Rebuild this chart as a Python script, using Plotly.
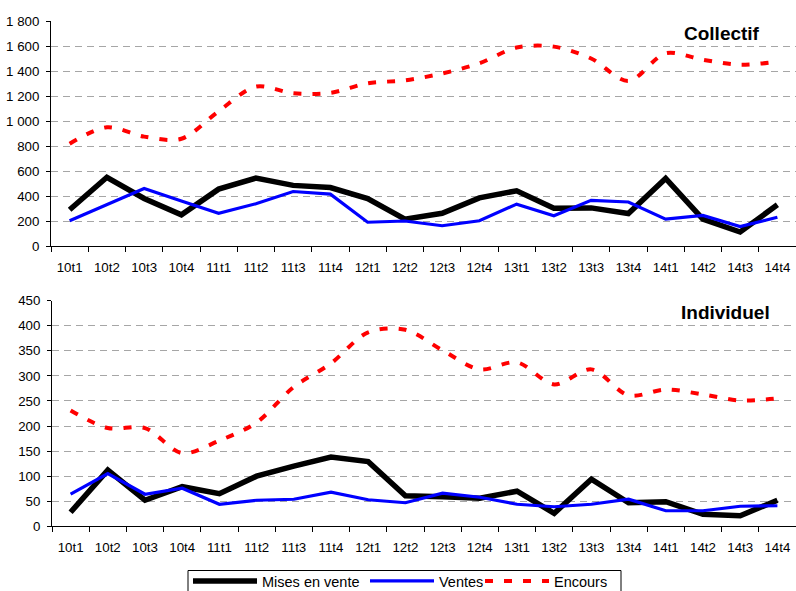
import plotly.graph_objects as go
from plotly.subplots import make_subplots

categories = ["10t1", "10t2", "10t3", "10t4", "11t1", "11t2", "11t3", "11t4",
              "12t1", "12t2", "12t3", "12t4", "13t1", "13t2", "13t3", "13t4",
              "14t1", "14t2", "14t3", "14t4"]

coll_mises = [290, 550, 380, 250, 455, 543, 485, 468, 380, 215, 262, 385, 442, 302, 305, 260, 540, 215, 112, 330]
coll_ventes = [202, 330, 460, 360, 262, 338, 436, 415, 190, 200, 162, 202, 335, 242, 365, 352, 215, 245, 155, 230]
coll_encours = [818, 950, 875, 858, 1078, 1275, 1222, 1225, 1302, 1325, 1380, 1462, 1588, 1595, 1500, 1320, 1542, 1490, 1450, 1475]

ind_mises = [28, 112, 52, 79, 65, 100, 120, 138, 129, 61, 59, 56, 70, 26, 94, 47, 49, 24, 21, 52]
ind_ventes = [64, 105, 64, 76, 44, 52, 54, 68, 53, 47, 66, 58, 44, 39, 44, 54, 31, 31, 40, 41]
ind_encours = [231, 196, 196, 146, 171, 207, 278, 325, 387, 392, 351, 313, 327, 283, 313, 261, 273, 263, 251, 255]

W, H = 796, 591
fig = make_subplots(rows=2, cols=1)

def add_series(mises, ventes, encours, row, show):
    fig.add_trace(go.Scatter(x=categories, y=mises, mode="lines", name="Mises en vente",
                             line=dict(color="#000000", width=5.5), showlegend=show,
                             legendgroup="m", legendwidth=98), row=row, col=1)
    fig.add_trace(go.Scatter(x=categories, y=ventes, mode="lines", name="Ventes",
                             line=dict(color="#0000FF", width=3.2), showlegend=show,
                             legendgroup="v", legendwidth=36), row=row, col=1)
    fig.add_trace(go.Scatter(x=categories, y=encours, mode="lines", name="Encours",
                             line=dict(color="#FF0000", width=4, dash="8px,11px",
                                       shape="spline", smoothing=0.9),
                             showlegend=show, legendgroup="e", legendwidth=60), row=row, col=1)

add_series(coll_mises, coll_ventes, coll_encours, 1, True)
add_series(ind_mises, ind_ventes, ind_encours, 2, False)

def py(px):
    return 1 - px / H

def px_x(px):
    return (px - 51) / 745

font_tick = dict(family="Liberation Sans, Arial, sans-serif", size=13.3, color="#000000")

xcommon = dict(type="category", range=[-0.5, 19.5], showline=True, linecolor="#000000",
               linewidth=1, ticks="outside", ticklen=5, tickcolor="#000000",
               tickson="boundaries", showgrid=False, tickfont=font_tick,
               ticklabelstandoff=9, ticklabeloverflow="allow")
ycommon = dict(showline=True, linecolor="#000000", linewidth=1, ticks="outside",
               ticklen=4, tickcolor="#000000", showgrid=True, gridcolor="#a6a6a6",
               gridwidth=1, griddash="7px,5px", zeroline=False, tickfont=font_tick,
               separatethousands=True, ticklabelstandoff=4)

fig.update_layout(
    width=W, height=H,
    margin=dict(l=51, r=0, t=0, b=0, autoexpand=False),
    paper_bgcolor="#ffffff", plot_bgcolor="#ffffff",
    separators=", ",
    font=dict(family="Liberation Sans, Arial, sans-serif", color="#000000"),
    xaxis=dict(xcommon, domain=[0, 1]),
    xaxis2=dict(xcommon, domain=[1 / 745, 1]),
    yaxis=dict(ycommon, range=[0, 1800], dtick=200, domain=[py(246), py(21)]),
    yaxis2=dict(ycommon, range=[0, 450], dtick=50, domain=[py(526.3), py(300.7)]),
    legend=dict(orientation="h", x=px_x(188), xanchor="left",
                y=py(565), yanchor="top", borderwidth=0,
                font=dict(family="Liberation Sans, Arial, sans-serif", size=14.5, color="#000000"),
                itemwidth=64, bgcolor="rgba(0,0,0,0)", tracegroupgap=0,
                entrywidthmode="pixels"),
    shapes=[
        dict(type="rect", xref="paper", yref="paper", x0=px_x(188), x1=px_x(621),
             y0=py(620), y1=py(570.5), line=dict(color="#000000", width=1),
             fillcolor="#ffffff", layer="above"),
    ],
    annotations=[
        dict(text="<b>Collectif</b>", xref="paper", yref="paper", x=px_x(722), y=py(33),
             xanchor="center", yanchor="middle", showarrow=False,
             font=dict(family="Liberation Sans, Arial, sans-serif", size=19, color="#000000")),
        dict(text="<b>Individuel</b>", xref="paper", yref="paper", x=px_x(725.5), y=py(312),
             xanchor="center", yanchor="middle", showarrow=False,
             font=dict(family="Liberation Sans, Arial, sans-serif", size=19, color="#000000")),
    ],
)

fig.write_html("out.html", config={"displayModeBar": False},
               post_script="document.body.style.margin='0';document.body.style.overflow='hidden';")
